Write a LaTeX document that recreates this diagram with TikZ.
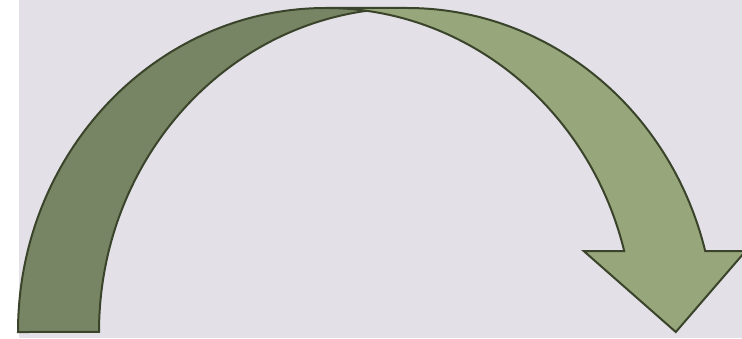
\documentclass[tikz,border=0pt]{standalone}
\definecolor{bgcol}{RGB}{227,224,232}
\definecolor{darkband}{RGB}{120,133,100}
\definecolor{lightband}{RGB}{152,166,124}
\definecolor{edgecol}{RGB}{58,68,42}
\tikzset{
  outline/.style={draw=edgecol, line width=2pt, line join=miter},
}
\begin{document}
\begin{tikzpicture}[x=1pt,y=1pt]
\useasboundingbox (0,0) rectangle (742,338);
\fill[bgcol] (19,0) rectangle (742,338);
% key points (ellipse A centre (326,6), ellipse B centre (407,6), radii 308 x 324)
\coordinate (tip) at (675.8,6);
\coordinate (hl) at (583.7,87);
\coordinate (si) at (624.2,87);
\coordinate (so) at (705.2,87);
\coordinate (hr) at (745.7,87);
\coordinate (atop) at (326,330);
\coordinate (btop) at (407,330);
\coordinate (cross) at (366.5,327.18);
\coordinate (bl) at (99,6);
\coordinate (al) at (18,6);
% light front band
\fill[lightband] (tip) -- (hl) -- (si)
  arc[start angle=14.4775, end angle=90, x radius=308, y radius=324]
  -- (btop)
  arc[start angle=90, end angle=14.4775, x radius=308, y radius=324]
  -- (hr) -- cycle;
% dark back band
\fill[darkband] (cross)
  arc[start angle=97.56, end angle=180, x radius=308, y radius=324]
  -- (al)
  arc[start angle=180, end angle=82.44, x radius=308, y radius=324]
  -- cycle;
% outline
\draw[outline] (cross)
  arc[start angle=97.56, end angle=180, x radius=308, y radius=324]
  -- (al)
  arc[start angle=180, end angle=90, x radius=308, y radius=324]
  -- (btop)
  arc[start angle=90, end angle=14.4775, x radius=308, y radius=324]
  -- (hr) -- (tip) -- (hl) -- (si)
  arc[start angle=14.4775, end angle=90, x radius=308, y radius=324];
\end{tikzpicture}
\end{document}
